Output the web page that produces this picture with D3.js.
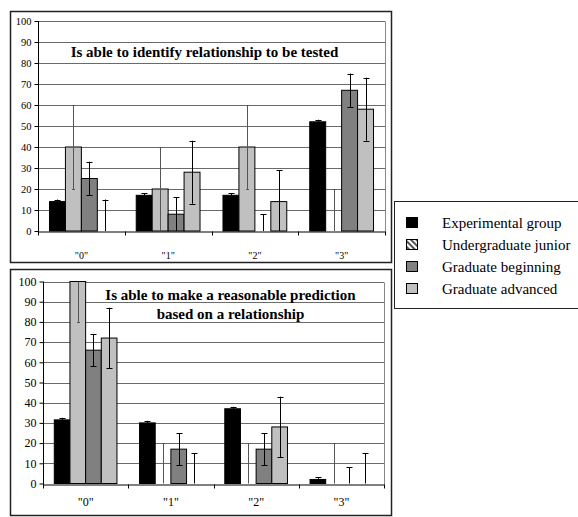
<!DOCTYPE html>
<html><head><meta charset="utf-8">
<script src="https://cdn.jsdelivr.net/npm/d3@7"></script>
<style>html,body{margin:0;padding:0;background:#fff;}svg{display:block;}
svg text{font-family:"Liberation Serif","DejaVu Serif","Times New Roman",serif;}</style>
</head><body>
<script>
// ---- data ----
const categories = ['"0"', '"1"', '"2"', '"3"'];
const seriesNames = ["Experimental group", "Undergraduate junior", "Graduate beginning", "Graduate advanced"];
const yTickValues = [0, 10, 20, 30, 40, 50, 60, 70, 80, 90, 100];

// Chart 1: Is able to identify relationship to be tested
const identifyExperimental = [14, 17, 17, 52];
const identifyUndergrad = [40, 20, 40, 0];
const identifyGradBeginning = [25, 8, 0, 67];
const identifyGradAdvanced = [0, 28, 14, 58];
const identifyErrors = [1, 20, 8, 15]; // per series, +/-

// Chart 2: Is able to make a reasonable prediction based on a relationship
const predictExperimental = [31.5, 30, 37, 2];
const predictUndergrad = [100, 0, 0, 0];
const predictGradBeginning = [66, 17, 17, 0];
const predictGradAdvanced = [72, 0, 28, 0];
const predictErrors = [1, 20, 8, 15];

const seriesFill = ["#000000", "#c0c0c0", "#808080", "#c0c0c0"];
const serif = '"Liberation Serif","DejaVu Serif","Times New Roman",serif';

const W = 578, H = 517;
const svg = d3.select("body").append("svg").attr("width", W).attr("height", H);

const defs = svg.append("defs");
const pat = defs.append("pattern").attr("id", "hatch").attr("patternUnits", "userSpaceOnUse")
  .attr("width", 4).attr("height", 4).attr("patternTransform", "rotate(-45)");
pat.append("rect").attr("width", 4).attr("height", 4).attr("fill", "#fff");
pat.append("rect").attr("width", 2).attr("height", 4).attr("fill", "#555");

function drawChart(cfg) {
  const g = svg.append("g");
  g.append("rect").attr("x", cfg.box.x + 0.5).attr("y", cfg.box.y + 0.5)
    .attr("width", cfg.box.w).attr("height", cfg.box.h)
    .attr("fill", "#fff").attr("stroke", "#222").attr("stroke-width", 1.5);

  const p = cfg.plot;
  const y = d3.scaleLinear().domain([0, 100]).range([p.bottom, p.top]);
  const x0 = d3.scaleBand().domain(categories).range([p.left, p.right]).padding(0);
  const x1 = d3.scaleBand().domain(d3.range(seriesNames.length)).range([0, x0.bandwidth()])
    .paddingInner(0).paddingOuter(0.72);

  g.append("g").selectAll("line").data(yTickValues.filter(v => v > 0)).join("line")
    .attr("x1", p.left).attr("x2", p.right)
    .attr("y1", d => Math.round(y(d)) + 0.5).attr("y2", d => Math.round(y(d)) + 0.5)
    .attr("stroke", "#6a6a6a").attr("stroke-width", 1);
  g.append("line").attr("x1", Math.round(p.right) + 0.5).attr("x2", Math.round(p.right) + 0.5)
    .attr("y1", Math.round(y(100)) + 0.5).attr("y2", Math.round(y(0)) + 0.5)
    .attr("stroke", "#888");

  const t = g.append("text").style("font-family", serif).attr("font-weight", "bold")
    .attr("font-size", cfg.titleSize).attr("text-anchor", "middle").attr("fill", "#000");
  cfg.title.forEach((line, i) => {
    t.append("tspan").attr("x", cfg.titleX).attr("y", cfg.titleY[i]).text(line);
  });

  const rows = categories.map((c, ci) => cfg.series.map((s, si) => ({ c, ci, si, v: s[ci], e: cfg.errors[si] })));
  const flat = rows.flat();
  g.append("g").selectAll("rect").data(flat.filter(d => d.v > 0)).join("rect")
    .attr("x", d => x0(d.c) + x1(d.si))
    .attr("y", d => y(d.v))
    .attr("width", x1.bandwidth())
    .attr("height", d => y(0) - y(d.v))
    .attr("fill", d => seriesFill[d.si])
    .attr("stroke", "#000").attr("stroke-width", 1);

  const eg = g.append("g");
  flat.forEach(d => {
    const cx = Math.round(x0(d.c) + x1(d.si) + x1.bandwidth() / 2) + 0.5;
    const hi = Math.min(100, d.v + d.e), lo = Math.max(0, d.v - d.e);
    const col = d.si === 1 ? "#555" : "#000";
    const cap = d.si === 1 ? 1.5 : 3;
    eg.append("line").attr("x1", cx).attr("x2", cx).attr("y1", y(hi)).attr("y2", y(lo))
      .attr("stroke", col).attr("stroke-width", 1);
    [hi, lo].forEach(v => {
      if (v <= 0 || (v >= 100 && d.v + d.e > 100)) return;
      eg.append("line").attr("x1", cx - cap).attr("x2", cx + cap)
        .attr("y1", Math.round(y(v)) + 0.5).attr("y2", Math.round(y(v)) + 0.5)
        .attr("stroke", col).attr("stroke-width", 1);
    });
  });

  const ya = g.append("g").attr("transform", `translate(${Math.round(p.left) + 0.5},0)`)
    .call(d3.axisLeft(y).tickValues(yTickValues).tickSize(4).tickPadding(3).tickFormat(d3.format("d")));
  ya.attr("font-family", null);
  ya.select(".domain").attr("d", `M0,${y(100)}V${y(0) + 4}`).attr("stroke", "#000");
  ya.selectAll("text").style("font-family", serif).attr("font-size", cfg.tickFont).attr("fill", "#000");
  ya.selectAll(".tick line").attr("stroke", "#000");

  const xa = g.append("g").attr("transform", `translate(0,${Math.round(y(0)) + 0.5})`)
    .call(d3.axisBottom(x0).tickSize(0).tickPadding(cfg.catOffset));
  xa.attr("font-family", null);
  xa.select(".domain").attr("stroke", "#000");
  xa.selectAll("text").style("font-family", serif).attr("font-size", cfg.catFont).attr("fill", "#000");
  const edges = categories.map(c => x0(c)).concat([x0(categories[categories.length - 1]) + x0.bandwidth()]);
  xa.append("g").selectAll("line").data(edges).join("line")
    .attr("x1", d => Math.round(d) + 0.5).attr("x2", d => Math.round(d) + 0.5)
    .attr("y1", 0).attr("y2", 4).attr("stroke", "#000");
}

drawChart({
  box: { x: 10, y: 11, w: 381, h: 251 },
  plot: { left: 38, right: 385, top: 21, bottom: 231 },
  series: [identifyExperimental, identifyUndergrad, identifyGradBeginning, identifyGradAdvanced],
  errors: identifyErrors,
  title: ["Is able to identify relationship to be tested"],
  titleX: 204.5, titleY: [57], titleSize: 15,
  tickFont: 10.5, catFont: 10, catOffset: 20
});

drawChart({
  box: { x: 10, y: 269, w: 381, h: 246 },
  plot: { left: 43, right: 384, top: 281.5, bottom: 483.5 },
  series: [predictExperimental, predictUndergrad, predictGradBeginning, predictGradAdvanced],
  errors: predictErrors,
  title: ["Is able to make a reasonable prediction", "based on a relationship"],
  titleX: 230.5, titleY: [300, 318.5], titleSize: 15,
  tickFont: 12, catFont: 12, catOffset: 13
});

const lg = svg.append("g");
lg.append("rect").attr("x", 394.5).attr("y", 201.5).attr("width", 220).attr("height", 107)
  .attr("fill", "#fff").attr("stroke", "#222").attr("stroke-width", 1);
const legendFill = ["#000000", "url(#hatch)", "#808080", "#c0c0c0"];
seriesNames.forEach((name, i) => {
  const cy = 222 + i * 22;
  lg.append("rect").attr("x", 406.5).attr("y", cy - 5 + 0.5).attr("width", 11).attr("height", 10)
    .attr("fill", legendFill[i]).attr("stroke", "#000").attr("stroke-width", 1);
  lg.append("text").attr("x", 442).attr("y", cy + 5.5).style("font-family", serif)
    .attr("font-size", 15).attr("fill", "#000").text(name);
});
</script>
</body></html>
